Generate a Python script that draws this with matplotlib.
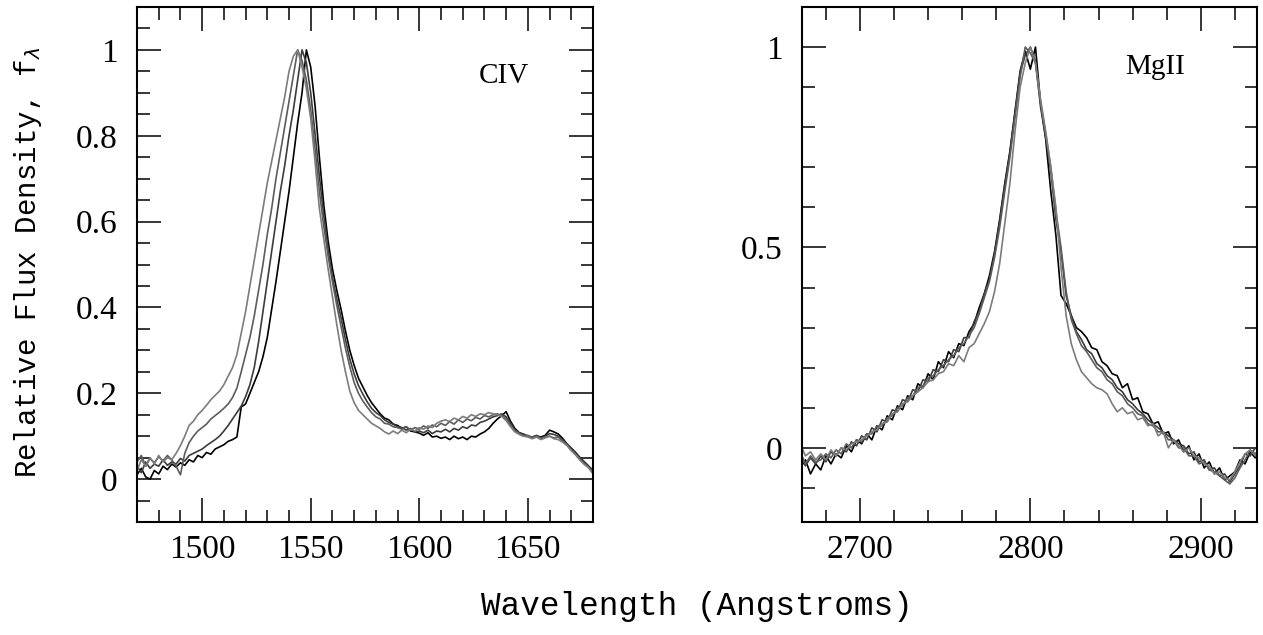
import matplotlib
matplotlib.use("Agg")
import matplotlib.pyplot as plt
from matplotlib.ticker import MultipleLocator, FuncFormatter

# ---------------- CIV panel data ----------------
civ_wave = [1470, 1472, 1474, 1476, 1478, 1480, 1482, 1484, 1486, 1488,
            1490, 1492, 1494, 1496, 1498, 1500, 1502, 1504, 1506, 1508,
            1510, 1512, 1514, 1516, 1518, 1520, 1522, 1524, 1526, 1528,
            1530, 1532, 1534, 1536, 1538, 1540, 1542, 1544, 1546, 1548,
            1550, 1552, 1554, 1556, 1558, 1560, 1562, 1564, 1566, 1568,
            1570, 1572, 1574, 1576, 1578, 1580, 1582, 1584, 1586, 1588,
            1590, 1592, 1594, 1596, 1598, 1600, 1602, 1604, 1606, 1608,
            1610, 1612, 1614, 1616, 1618, 1620, 1622, 1624, 1626, 1628,
            1630, 1632, 1634, 1636, 1638, 1640, 1642, 1644, 1646, 1648,
            1650, 1652, 1654, 1656, 1658, 1660, 1662, 1664, 1666, 1668,
            1670, 1672, 1674, 1676, 1678, 1680]

civ_black = [0.010, 0.025, 0.005, 0.000, 0.020, 0.012, 0.030, 0.022, 0.035, 0.028,
             0.038, 0.032, 0.045, 0.040, 0.055, 0.050, 0.062, 0.058, 0.070, 0.075,
             0.080, 0.088, 0.092, 0.098, 0.168, 0.175, 0.200, 0.225, 0.250, 0.285,
             0.330, 0.395, 0.460, 0.530, 0.600, 0.670, 0.750, 0.830, 0.900, 1.000,
             0.960, 0.870, 0.750, 0.640, 0.555, 0.490, 0.440, 0.395, 0.345, 0.300,
             0.265, 0.235, 0.215, 0.195, 0.178, 0.165, 0.152, 0.142, 0.138, 0.128,
             0.125, 0.118, 0.122, 0.112, 0.110, 0.107, 0.102, 0.108, 0.098, 0.100,
             0.095, 0.098, 0.092, 0.100, 0.094, 0.098, 0.092, 0.100, 0.098, 0.105,
             0.110, 0.118, 0.130, 0.140, 0.148, 0.157, 0.135, 0.118, 0.108, 0.104,
             0.100, 0.096, 0.100, 0.098, 0.102, 0.114, 0.110, 0.105, 0.095, 0.082,
             0.072, 0.062, 0.050, 0.040, 0.030, 0.020]

civ_dark = [0.030, 0.015, 0.040, 0.025, 0.035, 0.030, 0.045, 0.032, 0.040, 0.035,
            0.048, 0.042, 0.055, 0.060, 0.065, 0.070, 0.078, 0.085, 0.092, 0.100,
            0.112, 0.125, 0.140, 0.155, 0.170, 0.192, 0.220, 0.260, 0.320, 0.390,
            0.460, 0.530, 0.600, 0.670, 0.730, 0.800, 0.860, 0.930, 1.000, 0.970,
            0.900, 0.805, 0.705, 0.615, 0.535, 0.470, 0.420, 0.375, 0.325, 0.280,
            0.245, 0.218, 0.198, 0.180, 0.165, 0.155, 0.148, 0.138, 0.132, 0.128,
            0.122, 0.120, 0.114, 0.118, 0.110, 0.112, 0.108, 0.114, 0.106, 0.112,
            0.110, 0.116, 0.110, 0.118, 0.114, 0.122, 0.118, 0.126, 0.124, 0.132,
            0.135, 0.140, 0.145, 0.148, 0.152, 0.145, 0.130, 0.115, 0.108, 0.105,
            0.100, 0.098, 0.102, 0.096, 0.100, 0.106, 0.104, 0.100, 0.092, 0.082,
            0.070, 0.060, 0.050, 0.040, 0.030, 0.018]

civ_mid = [0.040, 0.055, 0.030, 0.048, 0.038, 0.052, 0.042, 0.055, 0.045, 0.030,
           0.010, 0.060, 0.085, 0.100, 0.112, 0.120, 0.128, 0.140, 0.148, 0.156,
           0.165, 0.175, 0.190, 0.212, 0.250, 0.290, 0.330, 0.380, 0.440, 0.500,
           0.570, 0.630, 0.700, 0.760, 0.820, 0.880, 0.940, 1.000, 0.975, 0.930,
           0.860, 0.770, 0.670, 0.590, 0.520, 0.460, 0.405, 0.355, 0.305, 0.262,
           0.225, 0.200, 0.182, 0.168, 0.155, 0.145, 0.140, 0.130, 0.128, 0.122,
           0.120, 0.116, 0.122, 0.114, 0.120, 0.116, 0.124, 0.118, 0.126, 0.122,
           0.130, 0.125, 0.134, 0.128, 0.138, 0.132, 0.140, 0.136, 0.144, 0.140,
           0.148, 0.145, 0.150, 0.152, 0.148, 0.140, 0.125, 0.112, 0.106, 0.100,
           0.102, 0.096, 0.100, 0.094, 0.098, 0.100, 0.096, 0.098, 0.088, 0.080,
           0.068, 0.058, 0.046, 0.036, 0.028, 0.015]

civ_light = [0.020, 0.045, 0.030, 0.050, 0.035, 0.055, 0.040, 0.050, 0.045, 0.060,
             0.078, 0.100, 0.125, 0.135, 0.150, 0.160, 0.172, 0.185, 0.195, 0.205,
             0.220, 0.240, 0.260, 0.290, 0.340, 0.390, 0.450, 0.510, 0.570, 0.630,
             0.690, 0.740, 0.790, 0.840, 0.890, 0.950, 0.985, 1.000, 0.960, 0.910,
             0.840, 0.740, 0.630, 0.560, 0.490, 0.425, 0.360, 0.300, 0.250, 0.205,
             0.178, 0.160, 0.150, 0.140, 0.130, 0.124, 0.118, 0.110, 0.105, 0.112,
             0.106, 0.114, 0.108, 0.116, 0.112, 0.120, 0.116, 0.124, 0.120, 0.130,
             0.135, 0.138, 0.134, 0.142, 0.138, 0.146, 0.142, 0.150, 0.146, 0.152,
             0.150, 0.155, 0.152, 0.150, 0.146, 0.136, 0.122, 0.110, 0.104, 0.100,
             0.098, 0.094, 0.098, 0.092, 0.096, 0.100, 0.094, 0.092, 0.086, 0.078,
             0.066, 0.056, 0.044, 0.034, 0.026, 0.012]

# ---------------- MgII panel data ----------------
mg_wave = [2665, 2668, 2671, 2674, 2677, 2680, 2683, 2686, 2689, 2692,
           2695, 2698, 2701, 2704, 2707, 2710, 2713, 2716, 2719, 2722,
           2725, 2728, 2731, 2734, 2737, 2740, 2743, 2746, 2749, 2752,
           2755, 2758, 2761, 2764, 2767, 2770, 2773, 2776, 2779, 2782,
           2785, 2788, 2791, 2794, 2797, 2800, 2803, 2806, 2809, 2812,
           2815, 2818, 2821, 2824, 2827, 2830, 2833, 2836, 2839, 2842,
           2845, 2848, 2851, 2854, 2857, 2860, 2863, 2866, 2869, 2872,
           2875, 2878, 2881, 2884, 2887, 2890, 2893, 2896, 2899, 2902,
           2905, 2908, 2911, 2914, 2917, 2920, 2923, 2926, 2929, 2932,
           2935]

mg_black = [-0.050, -0.030, -0.065, -0.040, -0.055, -0.020, -0.040, -0.015, -0.025, 0.005,
            -0.010, 0.020, 0.010, 0.035, 0.020, 0.055, 0.045, 0.080, 0.070, 0.105,
            0.095, 0.130, 0.120, 0.160, 0.150, 0.185, 0.170, 0.215, 0.200, 0.240,
            0.225, 0.260, 0.255, 0.290, 0.310, 0.350, 0.385, 0.430, 0.490, 0.570,
            0.660, 0.740, 0.840, 0.940, 0.990, 0.945, 1.000, 0.860, 0.770, 0.640,
            0.530, 0.380, 0.360, 0.330, 0.300, 0.290, 0.275, 0.250, 0.245, 0.215,
            0.205, 0.185, 0.180, 0.150, 0.160, 0.120, 0.125, 0.090, 0.085, 0.060,
            0.065, 0.035, 0.040, 0.010, 0.020, -0.010, 0.005, -0.030, -0.015, -0.050,
            -0.035, -0.065, -0.050, -0.080, -0.070, -0.060, -0.030, -0.040, -0.010, -0.025,
            -0.005]

mg_dark = [-0.020, -0.045, -0.025, -0.040, -0.020, -0.035, -0.010, -0.020, 0.000, -0.010,
           0.015, 0.005, 0.030, 0.020, 0.050, 0.040, 0.070, 0.065, 0.095, 0.090,
           0.120, 0.115, 0.145, 0.140, 0.170, 0.165, 0.195, 0.190, 0.220, 0.215,
           0.245, 0.240, 0.275, 0.275, 0.315, 0.340, 0.385, 0.420, 0.485, 0.565,
           0.655, 0.735, 0.835, 0.935, 0.980, 1.000, 0.965, 0.850, 0.775, 0.690,
           0.570, 0.490, 0.380, 0.330, 0.290, 0.270, 0.245, 0.235, 0.210, 0.200,
           0.180, 0.170, 0.150, 0.140, 0.120, 0.110, 0.095, 0.085, 0.070, 0.060,
           0.050, 0.040, 0.030, 0.020, 0.010, 0.005, -0.015, -0.010, -0.035, -0.030,
           -0.055, -0.050, -0.070, -0.065, -0.085, -0.065, -0.045, -0.015, -0.020, 0.000,
           -0.010]

mg_mid = [-0.010, -0.040, -0.020, -0.035, -0.030, -0.015, -0.025, -0.005, -0.015, 0.010,
          0.000, 0.020, 0.015, 0.035, 0.035, 0.055, 0.055, 0.075, 0.080, 0.100,
          0.105, 0.125, 0.130, 0.150, 0.155, 0.175, 0.180, 0.195, 0.205, 0.220,
          0.230, 0.250, 0.260, 0.280, 0.300, 0.335, 0.375, 0.415, 0.475, 0.550,
          0.640, 0.725, 0.825, 0.925, 1.000, 0.985, 0.960, 0.860, 0.785, 0.700,
          0.590, 0.500, 0.390, 0.320, 0.285, 0.255, 0.240, 0.220, 0.200, 0.190,
          0.170, 0.160, 0.140, 0.130, 0.110, 0.100, 0.085, 0.080, 0.060, 0.055,
          0.040, 0.040, 0.020, 0.020, 0.000, 0.000, -0.020, -0.020, -0.040, -0.035,
          -0.055, -0.060, -0.070, -0.080, -0.090, -0.075, -0.050, -0.030, -0.005, -0.015,
          0.000]

mg_light = [0.010, -0.020, -0.010, -0.030, -0.015, -0.030, -0.005, -0.020, 0.000, -0.005,
            0.010, 0.015, 0.020, 0.030, 0.040, 0.045, 0.060, 0.065, 0.085, 0.090,
            0.110, 0.115, 0.130, 0.140, 0.150, 0.165, 0.170, 0.185, 0.190, 0.210,
            0.205, 0.230, 0.215, 0.250, 0.260, 0.285, 0.310, 0.340, 0.390, 0.460,
            0.560, 0.660, 0.790, 0.900, 0.960, 1.000, 0.960, 0.870, 0.790, 0.700,
            0.600, 0.450, 0.330, 0.260, 0.220, 0.190, 0.175, 0.160, 0.150, 0.145,
            0.135, 0.110, 0.090, 0.100, 0.085, 0.090, 0.070, 0.075, 0.055, 0.060,
            0.030, 0.040, 0.000, 0.020, 0.005, -0.010, 0.000, -0.020, -0.025, -0.040,
            -0.045, -0.065, -0.060, -0.075, -0.080, -0.060, -0.035, -0.015, -0.005, -0.020,
            0.010]

line_colors = ["#000000", "#3c3c3c", "#5c5c5c", "#7c7c7c"]
civ_series = [civ_black, civ_dark, civ_mid, civ_light]
mg_series = [mg_black, mg_dark, mg_mid, mg_light]

W, H = 1263, 635
fig = plt.figure(figsize=(W / 100, H / 100), dpi=100)

ax1 = fig.add_axes([137 / W, (H - 522) / H, 456 / W, 515 / H])
ax2 = fig.add_axes([802 / W, (H - 522) / H, 455 / W, 515 / H])

for ys, c in zip(civ_series, line_colors):
    ax1.plot(civ_wave, ys, color=c, lw=1.2)
for ys, c in zip(mg_series, line_colors):
    ax2.plot(mg_wave, ys, color=c, lw=1.2)

ax1.set_xlim(1470, 1680)
ax1.set_ylim(-0.1, 1.1)
ax2.set_xlim(2666, 2933)
ax2.set_ylim(-0.185, 1.1)

ax1.xaxis.set_major_locator(MultipleLocator(50))
ax1.xaxis.set_minor_locator(MultipleLocator(10))
ax1.yaxis.set_major_locator(MultipleLocator(0.2))
ax1.yaxis.set_minor_locator(MultipleLocator(0.05))
ax2.xaxis.set_major_locator(MultipleLocator(100))
ax2.xaxis.set_minor_locator(MultipleLocator(20))
ax2.yaxis.set_major_locator(MultipleLocator(0.5))
ax2.yaxis.set_minor_locator(MultipleLocator(0.1))

fmt = FuncFormatter(lambda v, p: ("%g" % round(v, 3)))
tick_font = "Liberation Serif"
for ax in (ax1, ax2):
    ax.yaxis.set_major_formatter(fmt)
    ax.tick_params(which="both", direction="in", top=True, right=True,
                   width=1.1, colors="black")
    ax.tick_params(which="major", length=17, labelsize=24, pad=9)
    ax.tick_params(which="minor", length=9)
    ax.tick_params(axis="y", which="major", pad=14)
    for lab in ax.get_xticklabels() + ax.get_yticklabels():
        lab.set_fontfamily(tick_font)
    for sp in ax.spines.values():
        sp.set_linewidth(1.5)

ax1.text(1639, 0.94, "CIV", fontsize=21, family="Liberation Serif",
         ha="center", va="center")
ax2.text(2873, 0.95, "MgII", fontsize=21, family="Liberation Serif",
         ha="center", va="center")

fig.text(28 / W, 1 - 262 / H, r"Relative Flux Density, f$_\lambda$",
         rotation=90, fontsize=21, family="Liberation Mono",
         ha="center", va="center")
fig.text(697 / W, 1 - 607 / H, "Wavelength (Angstroms)", fontsize=23.5,
         family="Liberation Mono", ha="center", va="center")

fig.savefig("out.png", dpi=100)
